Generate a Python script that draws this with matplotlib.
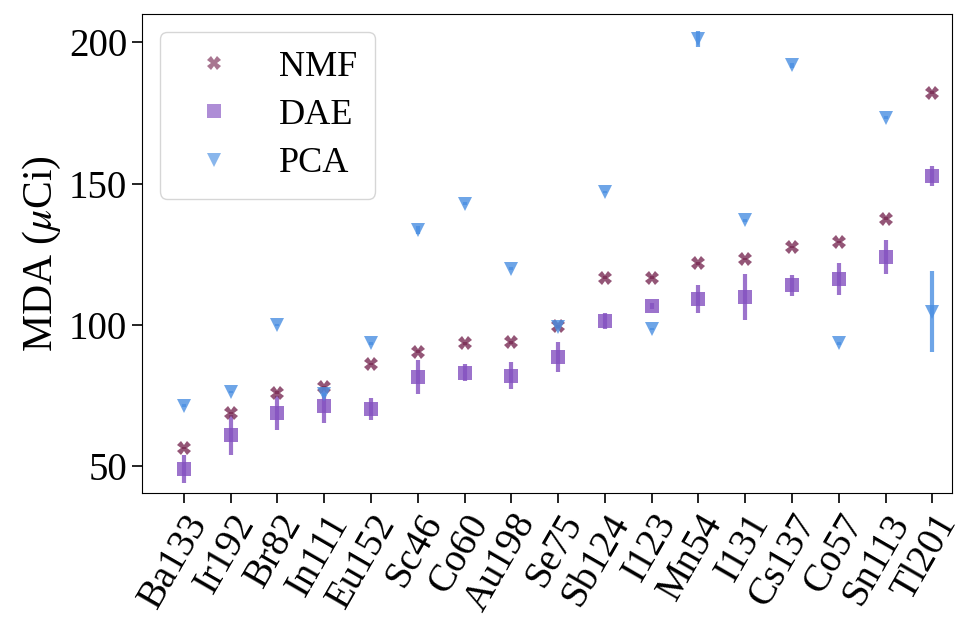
import numpy as np
import matplotlib
matplotlib.use("Agg")
import matplotlib.pyplot as plt
from matplotlib.lines import Line2D

plt.rcParams['font.family'] = ['Liberation Serif', 'DejaVu Serif']
plt.rcParams['mathtext.fontset'] = 'stix'
plt.rcParams['font.size'] = 28

isotopes = ["Ba133", "Ir192", "Br82", "In111", "Eu152", "Sc46", "Co60", "Au198",
            "Se75", "Sb124", "I123", "Mn54", "I131", "Cs137", "Co57", "Sn113", "Tl201"]

nmf_mda = [56.5, 68.9, 76.0, 78.1, 86.2, 90.5, 93.5, 93.9,
           99.6, 116.7, 116.7, 121.9, 123.4, 127.6, 129.4, 137.7, 182.2]
nmf_err = [0.5] * 17

dae_mda = [49.0, 61.1, 69.0, 71.5, 70.3, 81.5, 83.2, 82.1,
           88.8, 101.4, 106.8, 109.2, 110.0, 114.0, 116.4, 124.1, 152.8]
dae_err = [5.0, 7.0, 6.0, 6.2, 3.9, 6.0, 2.9, 4.8,
           5.3, 2.7, 1.0, 5.1, 8.1, 3.6, 5.7, 6.0, 3.6]

pca_mda = [71.4, 76.3, 100.0, 75.5, 93.6, 133.6, 143.0, 120.0,
           99.4, 147.1, 98.6, 201.2, 137.1, 191.9, 93.5, 173.4, 104.7]
pca_err = [0.5, 0.5, 0.5, 0.5, 0.5, 1.5, 0.5, 0.5,
           0.5, 0.5, 0.5, 2.8, 0.5, 0.8, 0.5, 0.5, 14.3]

series = [
    ("NMF", nmf_mda, nmf_err, "X", "#7a2c55"),
    ("DAE", dae_mda, dae_err, "s", "#8350c0"),
    ("PCA", pca_mda, pca_err, "v", "#4a8fe2"),
]

fig = plt.figure(figsize=(9.64, 6.18), dpi=100)
ax = fig.add_axes([0.147, 0.202, 0.841, 0.775])

x = np.arange(len(isotopes))
handles = []
for name, vals, errs, mk, col in series:
    ax.errorbar(x, vals, yerr=errs, fmt=mk, color=col, ms=10, mew=0,
                elinewidth=3, capsize=0, alpha=0.8)
    handles.append(Line2D([], [], ls="none", marker=mk, color=col,
                          ms=10, mew=0, alpha=0.65, label=name))

ax.set_xlim(-0.9, 16.43)
ax.set_ylim(40.5, 210)
ax.set_yticks([50, 100, 150, 200])
ax.set_xticks(x)
ax.set_xticklabels(isotopes, rotation=60, ha="right", rotation_mode="anchor")
ax.tick_params(length=7, width=1.2)
ax.set_ylabel(r"MDA ($\mu$Ci)", fontsize=30)

ax.legend(handles=handles, loc="upper left", fontsize=26,
          labelspacing=0.42, borderpad=0.5, borderaxespad=0.5)

fig.savefig("out.png", dpi=100)
